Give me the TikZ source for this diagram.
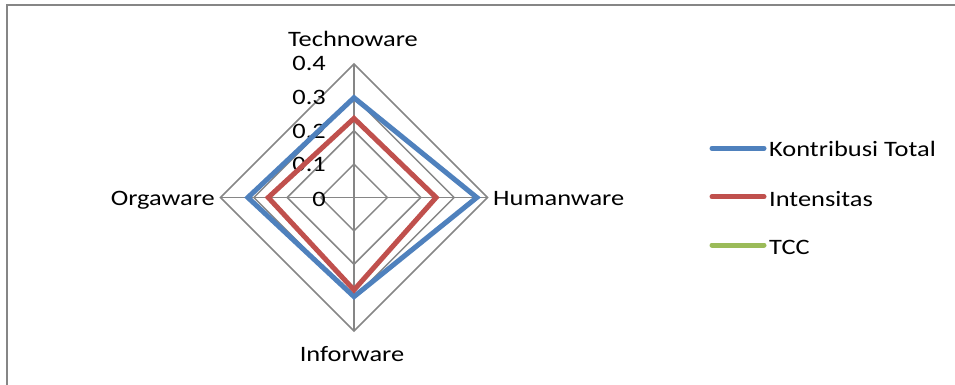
\documentclass[tikz,border=0pt]{standalone}
\usepackage{fontspec}
\setmainfont{Carlito}[FakeStretch=1.2]
\definecolor{kblue}{HTML}{4F81BD}
\definecolor{kred}{HTML}{C0504D}
\definecolor{kgreen}{HTML}{9BBB59}
\definecolor{kgrid}{HTML}{868686}
\begin{document}
\begin{tikzpicture}[x=1pt,y=-1pt,
  lbl/.style={inner sep=0pt,font=\fontsize{22}{26}\selectfont},
  gridline/.style={draw=kgrid,line width=1.5pt},
  series/.style={line width=5pt,line join=miter},
  legline/.style={line width=5pt,line cap=round}]
\useasboundingbox (0,0) rectangle (955,385);
\fill[white] (0,0) rectangle (955,385);
% outer frame (only left and top visible)
\coordinate (fbl) at (7,386);
\coordinate (ftl) at (7,5);
\coordinate (ftr) at (956,5);
\draw[kgrid,line width=2pt] (fbl) -- (ftl) -- (ftr);
% radar geometry
\def\cx{354}\def\cy{197.5}\def\u{333.75}
\coordinate (C) at (\cx,\cy);
\foreach \k in {1,2,3,4}{
  \draw[gridline] (\cx,\cy-\k*\u/10) -- (\cx+\k*\u/10,\cy) -- (\cx,\cy+\k*\u/10) -- (\cx-\k*\u/10,\cy) -- cycle;
}
\coordinate (AT) at (\cx,\cy-0.4*\u);
\coordinate (AH) at (\cx+0.4*\u,\cy);
\coordinate (AI) at (\cx,\cy+0.4*\u);
\coordinate (AO) at (\cx-0.4*\u,\cy);
\draw[gridline] (AT) -- (AI);
\draw[gridline] (AO) -- (AH);
% tick labels
\foreach \v/\t/\b in {0/0/206,1/0.1/171.7,2/0.2/139,3/0.3/105,4/0.4/71}{
  \node[lbl,anchor=base east] (tick\v) at (326,\b) {\t};
}
% axis labels
\node[lbl,anchor=base] (lT) at (353,46.7) {Technoware};
\node[lbl,anchor=base west] (lH) at (493,205.5) {Humanware};
\node[lbl,anchor=base] (lI) at (352,361.7) {Inforware};
\node[lbl,anchor=base east] (lO) at (215,205.5) {Orgaware};
% series
\coordinate (bT) at (\cx,\cy-0.299*\u);
\coordinate (bH) at (\cx+0.368*\u,\cy);
\coordinate (bI) at (\cx,\cy+0.297*\u);
\coordinate (bO) at (\cx-0.318*\u,\cy);
\draw[series,kblue] (bT) -- (bH) -- (bI) -- (bO) -- cycle;
\coordinate (rT) at (\cx,\cy-0.237*\u);
\coordinate (rH) at (\cx+0.246*\u,\cy);
\coordinate (rI) at (\cx,\cy+0.277*\u);
\coordinate (rO) at (\cx-0.257*\u,\cy);
\draw[series,kred] (rT) -- (rH) -- (rI) -- (rO) -- cycle;
% legend
\coordinate (k1a) at (712,148.3);\coordinate (k1b) at (764,148.3);
\coordinate (k2a) at (712,196.7);\coordinate (k2b) at (764,196.7);
\coordinate (k3a) at (712,245);\coordinate (k3b) at (764,245);
\draw[legline,kblue] (k1a) -- (k1b);
\draw[legline,kred] (k2a) -- (k2b);
\draw[legline,kgreen] (k3a) -- (k3b);
\node[lbl,anchor=base west] (t1) at (769,156.7) {Kontribusi Total};
\node[lbl,anchor=base west] (t2) at (769,206) {Intensitas};
\node[lbl,anchor=base west] (t3) at (769,254) {TCC};
\end{tikzpicture}
\end{document}
